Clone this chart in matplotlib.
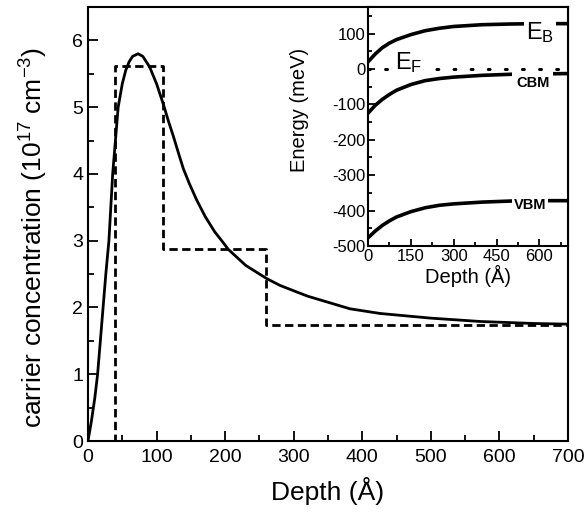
"""
Carrier concentration depth profile with band-edge inset.
"""

import matplotlib
matplotlib.use("Agg")
import matplotlib.pyplot as plt
from matplotlib.ticker import MultipleLocator


# main panel: measured profile (solid) and step model (dashed)
depth = [0, 5, 10, 14, 18, 22, 26, 30.5, 36, 44, 50, 55, 60, 65, 73, 80, 90,
         100, 110, 117, 124.6, 132, 139, 148, 158.5, 171, 185, 195, 204.6, 230,
         261, 280, 320, 382, 426, 500, 572, 650, 700]
conc = [0, 0.3, 0.65, 1.0, 1.5, 2.0, 2.5, 3.0, 4.0, 5.0, 5.35, 5.55, 5.68,
        5.76, 5.8, 5.76, 5.6, 5.35, 5.04, 4.8, 4.56, 4.31, 4.08, 3.85, 3.61,
        3.36, 3.13, 3.0, 2.87, 2.63, 2.43, 2.33, 2.17, 1.98, 1.91, 1.84, 1.79,
        1.76, 1.75]
step_depth = [0, 40, 110, 260, 700]
step_conc = [0, 5.62, 2.88, 1.73, 1.73]

# inset: band energies vs depth
band_depth = [0, 25, 50, 75, 100, 150, 200, 250, 300, 400, 500, 600, 700]
e_b = [20, 42, 60, 73, 83, 97, 108, 115, 120, 125, 127, 128, 128]
cbm = [-125, -103, -86, -72, -60, -44, -33, -27, -23, -18, -15, -14, -13]
vbm = [-477, -458, -442, -429, -418, -403, -392, -385, -381, -376, -373, -372, -372]
e_f = [0, 0]
e_f_depth = [0, 700]

plt.rcParams["font.family"] = ["Liberation Sans", "DejaVu Sans"]
plt.rcParams["mathtext.fontset"] = "custom"
plt.rcParams["mathtext.rm"] = "Liberation Sans"
plt.rcParams["mathtext.it"] = "Liberation Sans:italic"
plt.rcParams["mathtext.bf"] = "Liberation Sans:bold"
plt.rcParams["axes.unicode_minus"] = False


def style_axes(ax, major, minor, size):
    for sp in ax.spines.values():
        sp.set_linewidth(1.5)
    ax.tick_params(which="both", direction="in", width=1.3, labelsize=size,
                   top=False, right=False)
    ax.tick_params(which="major", length=major)
    ax.tick_params(which="minor", length=minor)


def main() -> None:
    fig = plt.figure(figsize=(5.87, 5.14), dpi=100)

    ax = fig.add_axes([88 / 587, 73 / 514, 480 / 587, 434 / 514])
    ax.plot(depth, conc, color="black", linewidth=2.0)
    ax.step(step_depth, step_conc, where="post", color="black", linewidth=2.0,
            dashes=(3, 1.6))
    ax.set_xlim(0, 700)
    ax.set_ylim(0, 6.5)
    ax.xaxis.set_major_locator(MultipleLocator(100))
    ax.xaxis.set_minor_locator(MultipleLocator(50))
    ax.yaxis.set_major_locator(MultipleLocator(1))
    ax.yaxis.set_minor_locator(MultipleLocator(0.5))
    style_axes(ax, 7, 4, 14)
    ax.tick_params(axis="x", pad=6)
    ax.set_xlabel("Depth (Å)", fontsize=19, labelpad=8)
    ax.set_ylabel("carrier concentration (10$^{17}$ cm$^{\\mathregular{-3}}$)",
                  fontsize=19)
    ax.yaxis.set_label_coords(-0.08, 0.47)

    ins = fig.add_axes([368 / 587, 268 / 514, 200 / 587, 239 / 514])
    ins.plot(band_depth, e_b, color="black", linewidth=2.6)
    ins.plot(band_depth, cbm, color="black", linewidth=2.6)
    ins.plot(band_depth, vbm, color="black", linewidth=2.6)
    ins.plot(e_f_depth, e_f, color="black", linewidth=2.2, linestyle=(0, (0.6, 5)),
             dash_capstyle="round")
    ins.set_xlim(0, 700)
    ins.set_ylim(-500, 175)
    ins.xaxis.set_major_locator(MultipleLocator(150))
    ins.xaxis.set_minor_locator(MultipleLocator(75))
    ins.yaxis.set_major_locator(MultipleLocator(100))
    ins.yaxis.set_minor_locator(MultipleLocator(50))
    style_axes(ins, 5, 3, 12)
    ins.tick_params(axis="both", pad=2)
    ins.set_xlabel("Depth (Å)", fontsize=14.5, labelpad=1)
    ins.set_ylabel("Energy (meV)", fontsize=14.5)
    ins.yaxis.set_label_coords(-0.295, 0.57)

    box = dict(facecolor="white", edgecolor="none", pad=1.5)
    ins.text(603, 139, "E$_\\mathregular{B}$", fontsize=17, ha="center", va="top",
             bbox=box)
    ins.text(94, 0, "E$_\\mathregular{F}$", fontsize=17, ha="left", va="baseline",
             bbox=dict(facecolor="white", edgecolor="none", pad=0.5))
    ins.text(576, -39, "CBM", fontsize=10.5, fontweight="bold", ha="center",
             va="center", bbox=dict(facecolor="white", edgecolor="none", pad=2.5))
    ins.text(567, -383, "VBM", fontsize=10.5, fontweight="bold", ha="center",
             va="center", bbox=box)

    fig.savefig("out.png", dpi=100)
    plt.close(fig)


if __name__ == "__main__":
    main()
